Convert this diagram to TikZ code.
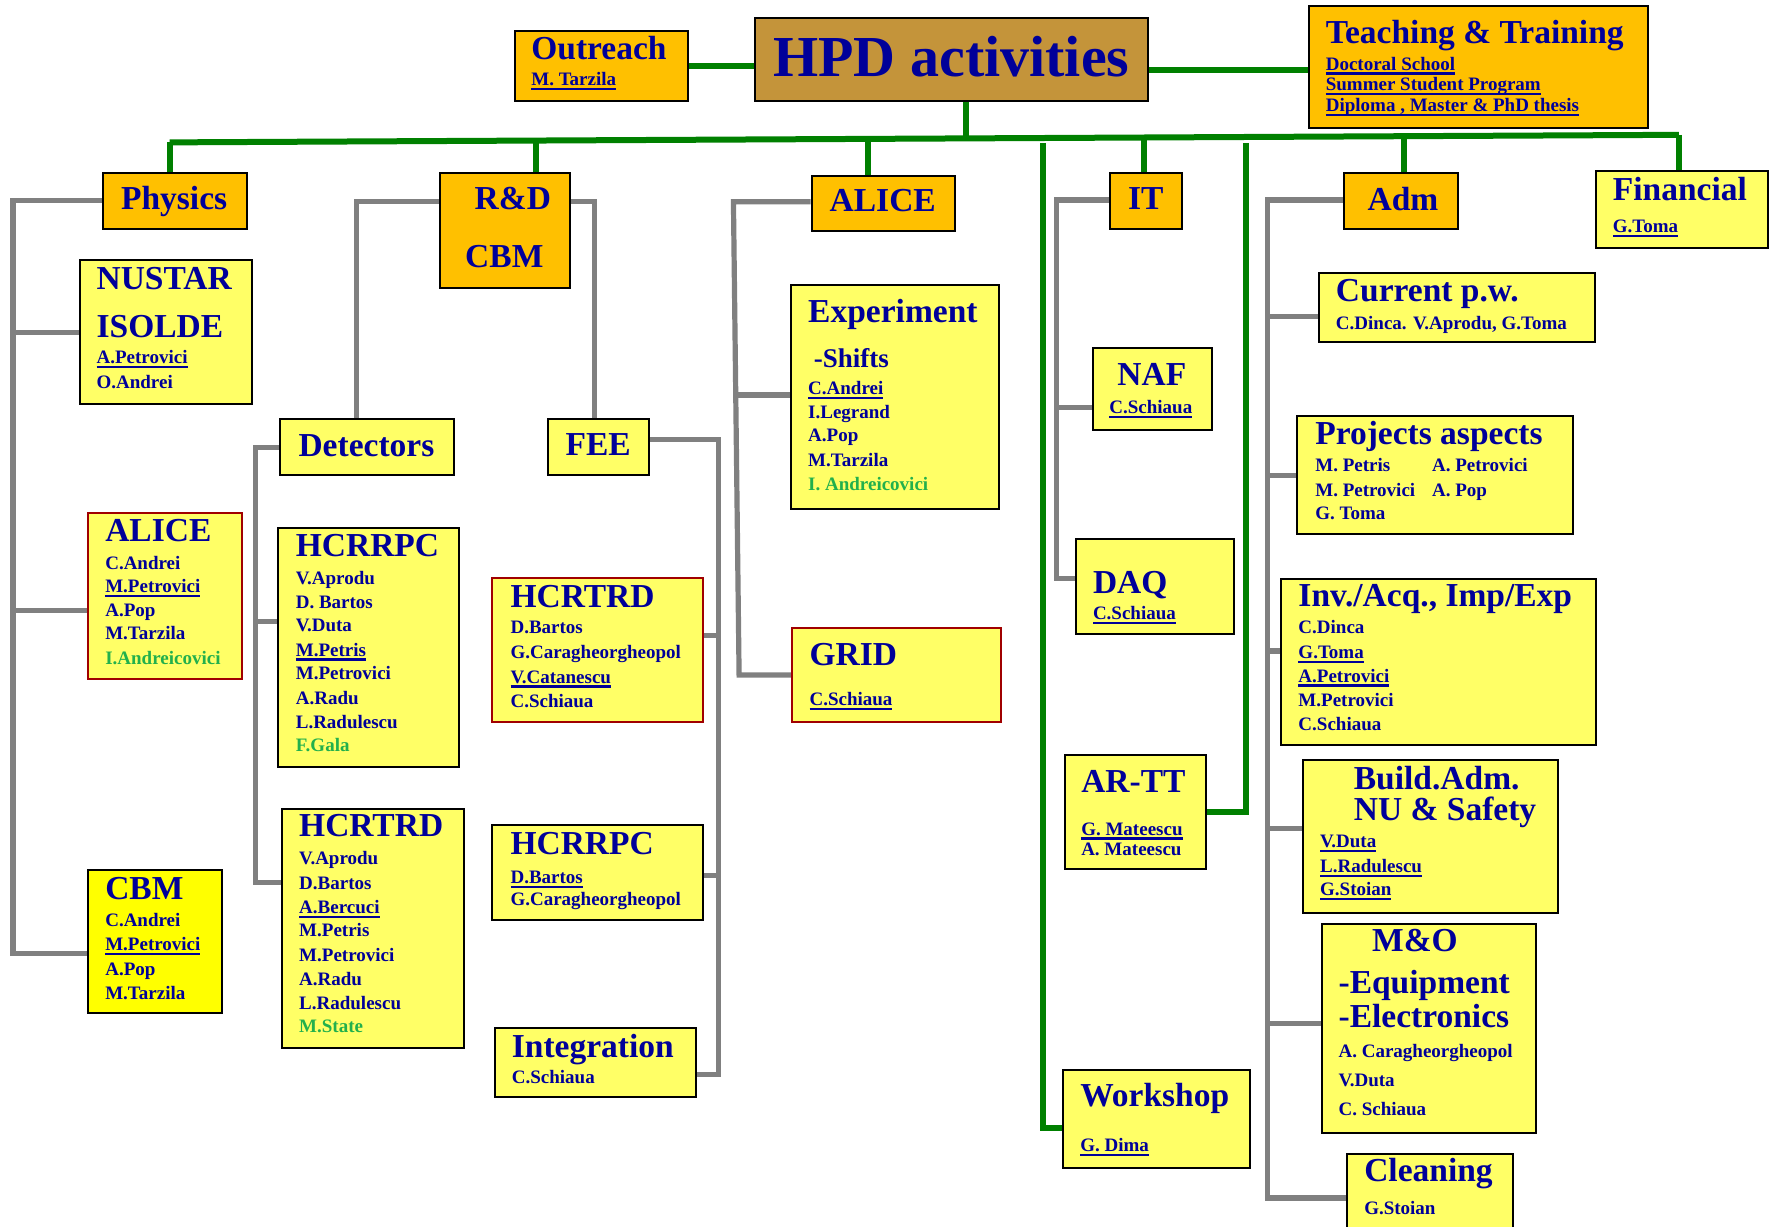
\documentclass[tikz,border=0pt]{standalone}
\usepackage{fontspec}
\setmainfont{Liberation Serif}
\usetikzlibrary{backgrounds}
\definecolor{navy}{HTML}{000099}
\definecolor{orng}{HTML}{FFC000}
\definecolor{ylw}{HTML}{FFFF66}
\definecolor{ylwb}{HTML}{FFFF00}
\definecolor{hpdc}{HTML}{C4943A}
\definecolor{grn}{HTML}{008000}
\definecolor{gry}{HTML}{808080}
\definecolor{dred}{HTML}{A00000}
\definecolor{gtxt}{HTML}{22B04C}
\newcommand\uln[1]{\setbox0\hbox{#1}\rlap{\rule[-4.5pt]{\wd0}{2.2pt}}\box0}
\newcommand\bx[6]{\node[#2,anchor=north west,minimum width={(#5-#3)*1.1301pt},minimum height={(#6-#4)*1.1301pt}] (#1) at (#3,#4) {};}
\newcommand\tx[5]{\node[#2] (#1) at (#3,#4) {#5};}
\tikzset{
 bxo/.style={draw=black,line width=2pt,fill=orng,inner sep=0},
 bxy/.style={draw=black,line width=2pt,fill=ylw,inner sep=0},
 bxr/.style={draw=dred,line width=2pt,fill=ylw,inner sep=0},
 bxh/.style={draw=black,line width=2pt,fill=hpdc,inner sep=0},
 bxc/.style={draw=black,line width=2pt,fill=ylwb,inner sep=0},
 tl/.style={anchor=base west,inner sep=0,text=navy,font=\bfseries\fontsize{33.5}{36}\selectfont},
 hp/.style={anchor=base west,inner sep=0,text=navy,font=\bfseries\fontsize{58}{60}\selectfont},
 sb/.style={anchor=base west,inner sep=0,text=navy,font=\bfseries\fontsize{27}{30}\selectfont},
 nm/.style={anchor=base west,inner sep=0,text=navy,font=\bfseries\fontsize{19}{22}\selectfont},
 nmg/.style={nm,text=gtxt},
 gy/.style={draw=gry,line width=5.2pt},
 gn/.style={draw=grn,line width=6pt},
}
\begin{document}
\begin{tikzpicture}[x=1.1301pt,y=-1.1301pt]
\useasboundingbox (0,0) rectangle (1568,1085);
% ---------------- boxes
\bx{hpd}{bxh}{666.8}{14.7}{1015.2}{88.5}
\bx{outr}{bxo}{454.5}{26.5}{607.5}{88.5}
\bx{tt}{bxo}{1157.5}{4.5}{1457}{112}
\bx{phys}{bxo}{90.5}{152}{217.5}{201.5}
\bx{nus}{bxy}{70}{229.5}{222.5}{357}
\bx{palice}{bxr}{77}{452.8}{213.3}{600.2}
\bx{pcbm}{bxc}{77.3}{769.3}{195.3}{895.8}
\bx{rd}{bxo}{388.8}{152}{503.6}{254.3}
\bx{det}{bxy}{247.2}{370.2}{400.5}{419.5}
\bx{fee}{bxy}{483.6}{370}{573.4}{419.7}
\bx{drpc}{bxy}{245.4}{466}{405}{677.8}
\bx{dtrd}{bxy}{248.7}{715.3}{409.4}{926.5}
\bx{ftrd}{bxr}{434.5}{510.6}{621}{637.7}
\bx{frpc}{bxy}{434.5}{729.4}{621}{813}
\bx{integ}{bxy}{437}{908.6}{615.4}{970}
\bx{alice}{bxo}{717.3}{154.5}{844.4}{203.5}
\bx{exper}{bxy}{698.7}{251.6}{883.3}{449.2}
\bx{grid}{bxr}{700.3}{554.8}{885}{637.7}
\bx{it}{bxo}{981}{152}{1045}{201.5}
\bx{naf}{bxy}{966}{306.8}{1072}{379.7}
\bx{daq}{bxy}{951}{476}{1091}{560.5}
\bx{art}{bxy}{941.4}{667.5}{1066.3}{767.8}
\bx{ws}{bxy}{939.4}{945.7}{1105}{1032.4}
\bx{adm}{bxo}{1188.5}{152}{1289}{202}
\bx{fin}{bxy}{1411}{150}{1563.5}{218.5}
\bx{cur}{bxy}{1166}{240.4}{1410.6}{301.5}
\bx{proj}{bxy}{1147}{367}{1391}{471.7}
\bx{inv}{bxy}{1132.7}{511.6}{1411.4}{658.4}
\bx{build}{bxy}{1151.8}{671.9}{1377.3}{806.7}
\bx{mo}{bxy}{1169}{816.5}{1358.3}{1002}
\bx{clean}{bxy}{1191}{1020}{1338}{1092}
% ---------------- texts
\tx{hpdT}{hp}{684.2}{67.3}{HPD activities}
\tx{outT}{tl}{470}{52.5}{Outreach}
\tx{out1}{nm}{470}{76.1}{\uln{M. Tarzila}}
\tx{ttT}{tl}{1173}{38.3}{Teaching \& Training}
\tx{tt1}{nm}{1173}{62}{\uln{Doctoral School}}
\tx{tt2}{nm}{1173}{80.2}{\uln{Summer Student Program}}
\tx{tt3}{nm}{1173}{98.8}{\uln{Diploma , Master \& PhD thesis}}
\tx{physT}{tl}{107}{185.2}{Physics}
\tx{nusT}{tl}{85.3}{256}{NUSTAR}
\tx{nusT2}{tl}{85.3}{298.8}{ISOLDE}
\tx{nus1}{nm}{85.3}{321.5}{\uln{A.Petrovici}}
\tx{nus2}{nm}{85.3}{343.6}{O.Andrei}
\tx{palT}{tl}{93}{479.3}{ALICE}
\tx{pal1}{nm}{93}{503.5}{C.Andrei}
\tx{pal2}{nm}{93}{524.2}{\uln{M.Petrovici}}
\tx{pal3}{nm}{93}{545.7}{A.Pop}
\tx{pal4}{nm}{93}{566.3}{M.Tarzila}
\tx{pal5}{nmg}{93}{587.9}{I.Andreicovici}
\tx{pcbT}{tl}{93}{795.5}{CBM}
\tx{pcb1}{nm}{93}{820}{C.Andrei}
\tx{pcb2}{nm}{93}{841.2}{\uln{M.Petrovici}}
\tx{pcb3}{nm}{93}{862.8}{A.Pop}
\tx{pcb4}{nm}{93}{884}{M.Tarzila}
\tx{rdT}{tl}{419.9}{185.8}{R\&D}
\tx{rdT2}{tl}{411.5}{236.5}{CBM}
\tx{detT}{tl}{264}{404}{Detectors}
\tx{feeT}{tl}{500.3}{403.5}{FEE}
\tx{drpT}{tl}{261.6}{492.6}{HCRRPC}
\tx{drp1}{nm}{261.6}{516.8}{V.Aprodu}
\tx{drp2}{nm}{261.6}{538.3}{D. Bartos}
\tx{drp3}{nm}{261.6}{559}{V.Duta}
\tx{drp4}{nm}{261.6}{580.5}{\uln{M.Petris}}
\tx{drp5}{nm}{261.6}{601.7}{M.Petrovici}
\tx{drp6}{nm}{261.6}{623}{A.Radu}
\tx{drp7}{nm}{261.6}{644.5}{L.Radulescu}
\tx{drp8}{nmg}{261.6}{665.2}{F.Gala}
\tx{dtrT}{tl}{264.6}{740.4}{HCRTRD}
\tx{dtr1}{nm}{264.6}{765.4}{V.Aprodu}
\tx{dtr2}{nm}{264.6}{786.7}{D.Bartos}
\tx{dtr3}{nm}{264.6}{808.2}{\uln{A.Bercuci}}
\tx{dtr4}{nm}{264.6}{828.8}{M.Petris}
\tx{dtr5}{nm}{264.6}{850.4}{M.Petrovici}
\tx{dtr6}{nm}{264.6}{871.6}{A.Radu}
\tx{dtr7}{nm}{264.6}{892.9}{L.Radulescu}
\tx{dtr8}{nmg}{264.6}{914}{M.State}
\tx{ftrT}{tl}{451.6}{537.6}{HCRTRD}
\tx{ftr1}{nm}{451.6}{561}{D.Bartos}
\tx{ftr2}{nm}{451.6}{583}{G.Caragheorgheopol}
\tx{ftr3}{nm}{451.6}{604.5}{\uln{V.Catanescu}}
\tx{ftr4}{nm}{451.6}{625.8}{C.Schiaua}
\tx{frpT}{tl}{451.6}{756.2}{HCRRPC}
\tx{frp1}{nm}{451.6}{781.6}{\uln{D.Bartos}}
\tx{frp2}{nm}{451.6}{801.5}{G.Caragheorgheopol}
\tx{intT}{tl}{452.8}{935.4}{Integration}
\tx{int1}{nm}{452.8}{958.5}{C.Schiaua}
\tx{aliT}{tl}{734}{187.3}{ALICE}
\tx{expT}{tl}{715}{285.5}{Experiment}
\tx{expT2}{sb}{720}{325}{-Shifts}
\tx{exp1}{nm}{715}{349.5}{\uln{C.Andrei}}
\tx{exp2}{nm}{715}{370.2}{I.Legrand}
\tx{exp3}{nm}{715}{390.8}{A.Pop}
\tx{exp4}{nm}{715}{412.4}{M.Tarzila}
\tx{exp5}{nmg}{715}{433.6}{I. Andreicovici}
\tx{grdT}{tl}{716.2}{588.8}{GRID}
\tx{grd1}{nm}{716.2}{624.5}{\uln{C.Schiaua}}
\tx{itT}{tl}{998}{185}{IT}
\tx{nafT}{tl}{988.6}{340.7}{NAF}
\tx{naf1}{nm}{981.5}{366.3}{\uln{C.Schiaua}}
\tx{daqT}{tl}{967}{525}{DAQ}
\tx{daq1}{nm}{967}{548.6}{\uln{C.Schiaua}}
\tx{artT}{tl}{956.6}{701.4}{AR-TT}
\tx{art1}{nm}{956.6}{738.9}{\uln{G. Mateescu}}
\tx{art2}{nm}{956.6}{756.6}{A. Mateescu}
\tx{wsT}{tl}{955.7}{979.3}{Workshop}
\tx{ws1}{nm}{955.7}{1019}{\uln{G. Dima}}
\tx{admT}{tl}{1210}{186}{Adm}
\tx{finT}{tl}{1427}{177}{Financial}
\tx{fin1}{nm}{1427}{205.6}{\uln{G.Toma}}
\tx{curT}{tl}{1182}{267}{Current p.w.}
\tx{cur1}{nm}{1182}{291.2}{C.Dinca. V.Aprodu, G.Toma}
\tx{proT}{tl}{1163.7}{393}{Projects aspects}
\tx{pro1}{nm}{1163.7}{417.4}{M. Petris}
\tx{pro2}{nm}{1267}{417.4}{A. Petrovici}
\tx{pro3}{nm}{1163.7}{439}{M. Petrovici}
\tx{pro4}{nm}{1267}{439}{A. Pop}
\tx{pro5}{nm}{1163.7}{460}{G. Toma}
\tx{invT}{tl}{1148.8}{536.8}{Inv./Acq., Imp/Exp}
\tx{inv1}{nm}{1148.8}{561}{C.Dinca}
\tx{inv2}{nm}{1148.8}{583}{\uln{G.Toma}}
\tx{inv3}{nm}{1148.8}{603.5}{\uln{A.Petrovici}}
\tx{inv4}{nm}{1148.8}{625.3}{M.Petrovici}
\tx{inv5}{nm}{1148.8}{646}{C.Schiaua}
\tx{bldT}{tl}{1197.8}{698.5}{Build.Adm.}
\tx{bldT2}{tl}{1197.8}{725.6}{NU \& Safety}
\tx{bld1}{nm}{1168}{750}{\uln{V.Duta}}
\tx{bld2}{nm}{1168}{772.2}{\uln{L.Radulescu}}
\tx{bld3}{nm}{1168}{792.6}{\uln{G.Stoian}}
\tx{moT}{tl}{1214}{842}{M\&O}
\tx{moT2}{tl}{1184.3}{879}{-Equipment}
\tx{moT3}{tl}{1184.3}{909}{-Electronics}
\tx{mo1}{nm}{1184.3}{936}{A. Caragheorgheopol}
\tx{mo2}{nm}{1184.3}{961.6}{V.Duta}
\tx{mo3}{nm}{1184.3}{987.5}{C. Schiaua}
\tx{clnT}{tl}{1207}{1045.6}{Cleaning}
\tx{cln1}{nm}{1207}{1075}{G.Stoian}
% ---------------- connectors
\begin{scope}[on background layer]
\fill[white] (0,0) rectangle (1568,1085);
% green tree
\coordinate (cHT) at (1015,62);
\coordinate (hdrop) at (854.4,122.5);
\coordinate (busL) at (150,126);
\coordinate (busR) at (1485.5,119.3);
\coordinate (bRD) at (474,124.4);
\coordinate (bAL) at (768.3,122.9);
\coordinate (bIT) at (1012.5,121.7);
\coordinate (bAD) at (1242,120.5);
\coordinate (wsTop) at (922.5,126.5);
\coordinate (wsC) at (922.5,998);
\coordinate (arTop) at (1102.5,126.5);
\draw[gn] (outr.east) -- (outr.east -| hpd.west);
\draw[gn] (cHT -| hpd.east) -- (cHT -| tt.west);
\draw[gn] (hdrop |- hpd.south) -- (hdrop);
\draw[gn] (busL) -- (busR);
\draw[gn] (busL) -- (busL |- phys.north);
\draw[gn] (bRD) -- (bRD |- rd.north);
\draw[gn] (bAL) -- (bAL |- alice.north);
\draw[gn] (bIT) -- (bIT |- it.north);
\draw[gn] (bAD) -- (bAD |- adm.north);
\draw[gn] (busR) -- (busR |- fin.north);
\draw[gn] (wsTop) -- (wsC) -- (wsC -| ws.west);
\draw[gn] (arTop) |- (art.east);
% gray: physics
\coordinate (pB) at (11.5,843.6);
\coordinate (pA) at (11.5,540.4);
\draw[gy] (phys.west) -- (phys.west -| pB) -- (pB) -- (pB -| pcbm.west);
\draw[gy] (pB |- nus.west) -- (nus.west);
\draw[gy] (pA) -- (pA -| palice.west);
% gray: R&D
\coordinate (rdL) at (315.8,178.5);
\coordinate (rdR) at (526,178.5);
\draw[gy] (rdL -| rd.west) -- (rdL) -- (rdL |- det.north);
\draw[gy] (rdR -| rd.east) -- (rdR) -- (rdR |- fee.north);
% gray: detectors
\coordinate (dB) at (226,780.8);
\coordinate (dR) at (226,550);
\draw[gy] (det.west) -- (det.west -| dB) -- (dB) -- (dB -| dtrd.west);
\draw[gy] (dR) -- (dR -| drpc.west);
% gray: FEE
\coordinate (fT) at (636,388.8);
\coordinate (fB) at (636,950.6);
\coordinate (f1) at (636,562.5);
\coordinate (f2) at (636,775);
\draw[gy] (fT -| fee.east) -- (fT) -- (fB) -- (fB -| integ.east);
\draw[gy] (f1) -- (f1 -| ftrd.east);
\draw[gy] (f2) -- (f2 -| frpc.east);
% gray: ALICE
\coordinate (aT) at (649,178.5);
\coordinate (aB) at (654,597.3);
\coordinate (aE) at (651,349.5);
\draw[gy] (aT -| alice.west) -- (aT) -- (aB) -- (aB -| grid.west);
\draw[gy] (aE) -- (aE -| exper.west);
% gray: IT
\coordinate (iT) at (935,177);
\coordinate (iB) at (935,511.6);
\coordinate (iN) at (935,360.5);
\draw[gy] (iT -| it.west) -- (iT) -- (iB) -- (iB -| daq.west);
\draw[gy] (iN) -- (iN -| naf.west);
% gray: Adm
\coordinate (mT) at (1121.5,177);
\coordinate (mB) at (1121.5,1060);
\coordinate (m1) at (1121.5,280);
\coordinate (m2) at (1121.5,421);
\coordinate (m3) at (1121.5,576);
\coordinate (m4) at (1121.5,733);
\coordinate (m5) at (1121.5,905.5);
\draw[gy] (mT -| adm.west) -- (mT) -- (mB) -- (mB -| clean.west);
\draw[gy] (m1) -- (m1 -| cur.west);
\draw[gy] (m2) -- (m2 -| proj.west);
\draw[gy] (m3) -- (m3 -| inv.west);
\draw[gy] (m4) -- (m4 -| build.west);
\draw[gy] (m5) -- (m5 -| mo.west);
\end{scope}
\end{tikzpicture}
\end{document}
